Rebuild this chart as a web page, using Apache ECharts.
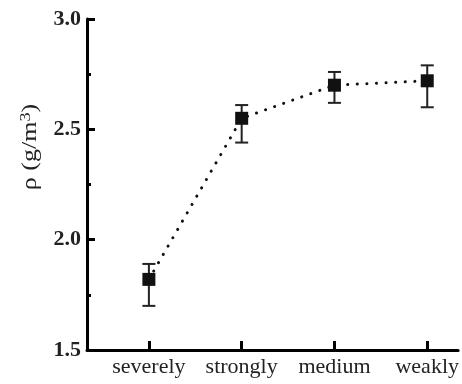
<!DOCTYPE html>
<html>
<head>
<meta charset="utf-8">
<script src="https://cdn.jsdelivr.net/npm/echarts@6/dist/echarts.min.js"></script>
<style>html,body{margin:0;padding:0;background:#fff}#c{width:462px;height:384px}</style>
</head>
<body>
<div id="c"></div>
<script>
const categories = ['severely', 'strongly', 'medium', 'weakly'];
const categoryPos = [1, 2, 3, 4];
const density = [1.82, 2.55, 2.70, 2.72];
const errLow = [1.70, 2.44, 2.62, 2.60];
const errHigh = [1.89, 2.61, 2.76, 2.79];
const yTicks = [1.5, 2.0, 2.5, 3.0];

const chart = echarts.init(document.getElementById('c'), null, {renderer: 'canvas'});
const serif = '"Liberation Serif", "Times New Roman", serif';
const ink = '#111';

const pointData = categoryPos.map((x, i) => [x, density[i]]);
const errData = categoryPos.map((x, i) => [x, errLow[i], errHigh[i]]);

chart.setOption({
  animation: false,
  backgroundColor: '#fff',
  grid: {left: 87, right: 0, top: 19, bottom: 34, containLabel: false},
  xAxis: {
    type: 'value',
    min: 0.333,
    max: 4.333,
    axisLine: {show: true, lineStyle: {color: '#000', width: 3}},
    axisTick: {show: true, inside: true, length: 9, customValues: categoryPos, lineStyle: {color: '#000', width: 3}},
    axisLabel: {
      customValues: categoryPos,
      formatter: v => categories[Math.round(v) - 1] || '',
      fontFamily: serif, fontSize: 22, color: '#222', margin: 6
    },
    splitLine: {show: false}
  },
  yAxis: {
    type: 'value',
    min: yTicks[0],
    max: yTicks[yTicks.length - 1],
    interval: 0.5,
    axisLine: {show: true, lineStyle: {color: '#000', width: 3}},
    axisTick: {show: true, inside: true, length: 8, lineStyle: {color: '#000', width: 3}},
    minorTick: {show: true, splitNumber: 2, length: 4, lineStyle: {color: '#000', width: 3}},
    axisLabel: {
      formatter: v => v.toFixed(1),
      fontFamily: serif, fontSize: 22, fontWeight: 'bold', color: '#222', margin: 6
    },
    splitLine: {show: false},
    minorSplitLine: {show: false}
  },
  graphic: [{
    type: 'text',
    x: 31,
    y: 147,
    rotation: Math.PI / 2,
    scaleX: 1.3,
    style: {
      text: '{a|ρ (g/m}{s|3}{a|)}',
      textAlign: 'center',
      textVerticalAlign: 'middle',
      fill: '#222',
      rich: {
        a: {fontFamily: serif, fontSize: 20, lineHeight: 24, fill: '#222'},
        s: {fontFamily: serif, fontSize: 14, verticalAlign: 'top', lineHeight: 24, fill: '#222'}
      }
    }
  }],
  series: [
    {
      type: 'line',
      data: pointData,
      symbol: 'none',
      lineStyle: {color: ink, width: 3, type: [0.1, 9.5], cap: 'round'},
      z: 2
    },
    {
      type: 'custom',
      data: errData,
      renderItem: function (params, api) {
        const x = api.value(0);
        const lo = api.coord([x, api.value(1)]);
        const hi = api.coord([x, api.value(2)]);
        const hw = 6.5;
        const st = {stroke: '#222', lineWidth: 2};
        return {
          type: 'group',
          children: [
            {type: 'line', shape: {x1: lo[0], y1: lo[1], x2: hi[0], y2: hi[1]}, style: st},
            {type: 'line', shape: {x1: lo[0] - hw, y1: lo[1], x2: lo[0] + hw, y2: lo[1]}, style: st},
            {type: 'line', shape: {x1: hi[0] - hw, y1: hi[1], x2: hi[0] + hw, y2: hi[1]}, style: st}
          ]
        };
      },
      z: 3
    },
    {
      type: 'scatter',
      data: pointData,
      symbol: 'rect',
      symbolSize: 13,
      itemStyle: {color: ink, opacity: 1},
      z: 4
    }
  ]
});
</script>
</body>
</html>
